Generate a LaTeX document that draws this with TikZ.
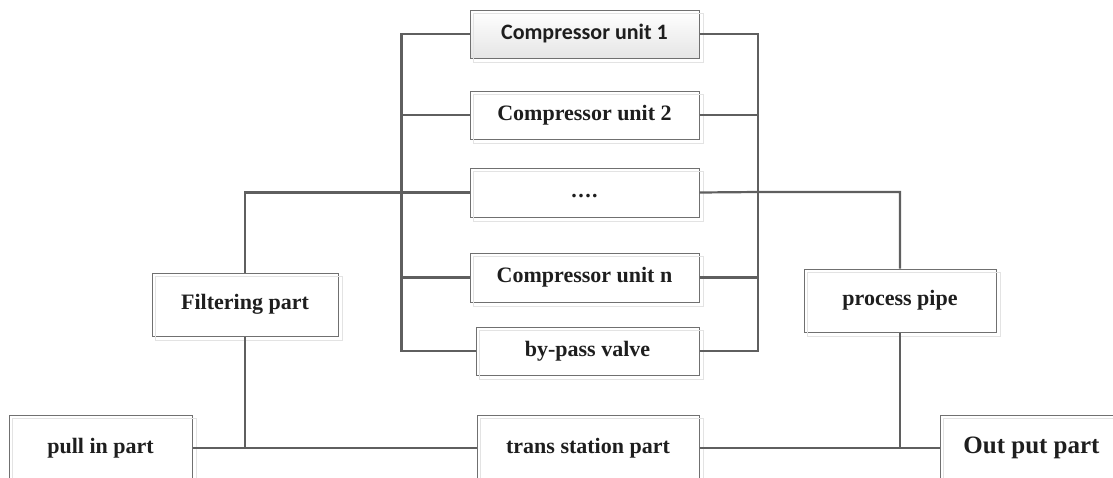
\documentclass[tikz,border=0pt]{standalone}
\usepackage{fontspec}
\setmainfont{Liberation Serif}
\newfontfamily\calfont{Carlito}
\definecolor{boxline}{HTML}{707070}
\definecolor{connline}{HTML}{5F5F5F}
\definecolor{txt}{HTML}{1E1E1E}
\begin{document}
\begin{tikzpicture}[x=1pt,y=-1pt,
  part/.style={draw=boxline,line width=1pt,fill=white,inner sep=0pt,
    text=txt,font=\fontsize{22}{26}\selectfont\bfseries},
  shad/.style={draw=black!11,line width=1pt},
  conn/.style={draw=connline,line width=2.2pt},
]
\useasboundingbox (0,0) rectangle (1113,477);
% nodes
\node[part,minimum width=229pt,minimum height=48pt,top color=white,bottom color=black!10,
  font=\calfont\fontsize{22}{26}\selectfont\bfseries] (c1) at (584.5,34) {Compressor unit 1};
\node[part,minimum width=229pt,minimum height=48pt] (c2) at (584.5,115) {Compressor unit 2};
\node[part,minimum width=229pt,minimum height=49pt] (dots) at (584.5,192.5) {\raisebox{-5pt}[0pt][0pt]{.\kern1.5pt.\kern1.5pt.\kern1.5pt.}};
\node[part,minimum width=229pt,minimum height=49pt] (cn) at (584.5,277.5) {Compressor unit n};
\node[part,minimum width=223pt,minimum height=48pt] (bp) at (587.5,351) {by-pass valve};
\node[part,minimum width=186pt,minimum height=63pt] (filt) at (245,304.5) {Filtering part};
\node[part,minimum width=192pt,minimum height=63pt] (pp) at (900,300.5) {process pipe};
\node[part,minimum width=183pt,minimum height=66pt] (pull) at (100.5,448) {pull in part};
\node[part,minimum width=222pt,minimum height=66pt] (trans) at (588,448) {trans station part};
\node[part,minimum width=183pt,minimum height=66pt,font=\fontsize{25}{30}\selectfont\bfseries] (out) at (1031.5,448) {Out put part};
% faint offset outlines
\foreach \n in {c1,c2,dots,cn,bp,filt,pp,pull,trans,out}
  \draw[shad] ([shift={(4,4)}]\n.north west) rectangle ([shift={(4,4)}]\n.south east);
% bus coordinates
\coordinate (lbx) at (401.5,0);
\coordinate (rbx) at (758,0);
\coordinate (rj) at (758,192);
% left bus
\draw[conn] (c1.west) -- (c1.west -| lbx) |- (bp.west);
\draw[conn] (c2.west) -- (c2.west -| lbx);
\draw[conn] (cn.west) -- (cn.west -| lbx);
\draw[conn] (filt.north) |- (dots.west);
% right bus
\draw[conn] (c1.east) -- (c1.east -| rbx) |- (bp.east);
\draw[conn] (c2.east) -- (c2.east -| rbx);
\draw[conn] (cn.east) -- (cn.east -| rbx);
\draw[conn] (dots.east) -- (rj) -| (pp.north);
% bottom line
\draw[conn] (pull.east) -- (trans.west);
\draw[conn] (filt.south) -- (filt.south |- pull.east);
\draw[conn] (trans.east) -- (out.west);
\draw[conn] (pp.south) -- (pp.south |- out.west);
\end{tikzpicture}
\end{document}
